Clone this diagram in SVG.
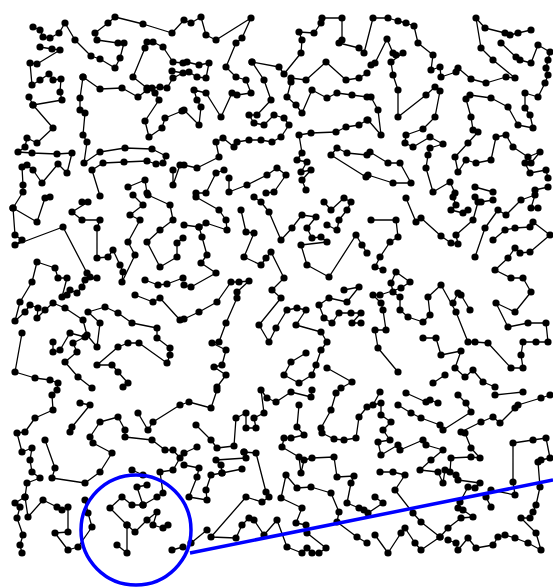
<svg xmlns="http://www.w3.org/2000/svg" width="553" height="587" viewBox="0 0 553 587">
<style>
.t polyline{fill:none;stroke:#000;stroke-width:1.3;stroke-linejoin:round;marker-start:url(#d);marker-mid:url(#d);marker-end:url(#d)}
.hl{fill:none;stroke:#0000ff;stroke-width:3.5}
</style>
<defs>
<marker id="d" markerWidth="9" markerHeight="9" refX="4.5" refY="4.5" markerUnits="userSpaceOnUse"><circle cx="4.5" cy="4.5" r="3.6" fill="#000"/></marker>
</defs>
<rect width="553" height="587" fill="#fff"/>
<g id="tour" class="t">
<polyline points="33,27 40,30 43,37 50,38 59,33 65,23 75,40 91,56 100,59 115,68 120,58 124,43 118,43 97,40 95,33 108,23 115,17 143,24 172,33 184,20 191,23 201,17 206,35 216,40 251,18 242,38 236,43 226,67 236,77 246,80 251,93 237,95 232,93 221,117 206,93 194,90 197,100 201,107 199,125 184,110 182,111 165,118 162,128 149,137 145,121 159,100 155,93 147,88 133,77 145,48 147,42 153,42 163,47 173,62 183,63 187,62 199,65 209,63 206,78 197,77 189,72"/>
<polyline points="40,47 52,49 60,50 37,64 30,63 32,85 40,80 49,74 53,80 61,79 60,92 62,100 33,105 29,97"/>
<polyline points="33,105 53,128 37,143 27,138 25,147 18,152 32,153 57,154 72,153 67,173 58,164 42,183 33,170 27,165 22,167 23,185 23,192 13,208 37,222 45,198 50,197"/>
<polyline points="13,208 15,235 22,240 15,245 63,227 87,273 90,277 97,278 85,280 82,287 77,293 70,290 67,295 62,297 67,278 58,278 55,268 37,262 32,282 20,302 15,321 25,312 30,305 38,308 37,318 45,310 53,303 65,308 83,320 87,335 97,347 100,323 88,312 105,307 118,313 132,323 157,328 157,338 170,348 170,355 167,363 139,343 128,343 118,347 97,365 112,365 118,372 128,383 123,387"/>
<polyline points="83,77 80,98 80,110 85,113 83,135 87,142 84,163 100,152 125,148 152,149 166,156 163,163 156,164 147,161 124,162 103,163 92,170 100,196"/>
<polyline points="83,77 100,89 122,88 138,97 147,90 152,88 160,87 167,88 173,78 183,73 172,71"/>
<polyline points="128,187 145,180 147,193"/>
<polyline points="173,170 173,185 180,165"/>
<polyline points="252,62 264,80 271,100 257,115 249,115 254,123 264,125 274,115 284,118 289,125 281,137 272,142 261,140 249,140 237,142 234,147 223,138 216,142 219,157 197,168 184,165"/>
<polyline points="252,62 279,67 284,74 301,53 302,40 299,32 314,33 321,23 322,18 342,18 342,40 339,43 359,48 364,53 373,18 388,18 398,21 406,23 414,26 418,43 433,55 431,70 440,67 441,77 456,72 458,68 471,79 486,83 506,77 515,78 493,60 481,48 476,18 485,28 505,33 510,35 518,33 531,30"/>
<polyline points="501,43 516,57 520,60 531,63 538,45 550,52 548,60 546,68 548,75 545,83 538,97 525,93 525,108 530,115 533,128 518,125 508,107 491,98 470,95 466,99 471,117 473,130 478,132 468,143 455,157 458,172 466,160 476,163 491,160 496,137 506,135 513,147 528,157 540,152 531,163 525,163 530,173 546,170 548,178"/>
<polyline points="371,65 375,63 387,39 393,53 396,55 403,53 391,62 393,75 398,90 398,117 426,95 435,87 440,91 435,117 423,129 406,135 405,143 413,147 430,137 443,144 430,148 428,155 426,168 433,192 450,182 455,193"/>
<polyline points="291,78 306,80 326,62 346,80 359,78 367,73"/>
<polyline points="291,82 287,97 296,105 302,113 312,90 327,98 337,93 352,95 367,97 371,97 378,110 381,135 368,120"/>
<polyline points="306,190 302,180 311,170 301,172 307,162 297,160 302,153 299,135 311,133 336,132 346,127 359,125 367,120"/>
<polyline points="366,177 331,155 337,148 347,153 367,155 370,152 388,163 400,163 411,183 393,183 368,175"/>
<polyline points="224,170 216,173 206,193 196,193"/>
<polyline points="229,178 229,192 247,185 267,175 277,168 286,175 274,192 266,193"/>
<polyline points="475,187 493,192"/>
<polyline points="535,190 548,187"/>
<polyline points="82,202 88,202 72,212 82,220 100,220 97,228 97,258 108,257 113,250 120,265 123,272 122,282 135,255 128,242 140,220 130,215 143,205 133,195"/>
<polyline points="148,195 170,205 173,220 160,230 147,242 160,267 177,257 177,243 183,238"/>
<polyline points="145,280 158,285 167,284 183,278"/>
<polyline points="135,295 153,302 160,298 180,320 184,319 199,312 217,302 231,282 239,282 249,281 237,292 237,298 226,323 219,342 212,343 226,350 222,365 214,367 226,375 217,387"/>
<polyline points="22,333 15,372 35,378 50,380 58,383 57,390"/>
<polyline points="53,342 53,352 60,350 70,333 85,337 73,343 77,352 65,362 78,377 92,388"/>
<polyline points="196,197 219,210 226,220 227,230 206,223 199,227 202,237 207,255 201,263 216,273 191,287 184,285"/>
<polyline points="184,225 199,227"/>
<polyline points="241,210 246,232 254,233 244,257 261,265 266,258 271,252 284,278 272,290 281,298 259,325 269,342 276,328 287,310 297,308 306,310 296,325 321,332 327,342 321,350 316,365 312,375 299,383 284,375 291,362 306,353"/>
<polyline points="254,197 261,202 269,212 281,240 292,228 302,215 316,217 307,228 312,238 321,237 327,242 301,245 307,265 329,277 356,235 362,245 367,253"/>
<polyline points="324,202 331,210 344,198 351,202 347,210 339,220 337,230 327,225"/>
<polyline points="344,290 359,287 347,302 329,298 319,305 324,318 332,323 339,313 351,313 361,313 352,323 361,323"/>
<polyline points="327,368 352,382 341,388"/>
<polyline points="406,198 416,222 421,218 441,236 451,243 458,244 456,235 473,220 478,202 475,197"/>
<polyline points="481,202 493,200"/>
<polyline points="453,197 456,205 451,210 463,213 468,210"/>
<polyline points="475,257 485,228 498,210 506,215 521,200 535,195 531,208 538,208"/>
<polyline points="493,240 505,230 515,228 530,227 533,222 550,235 530,252 520,253 515,248 508,258 495,270 511,278 523,278 531,292 515,312 496,303 508,327 528,323 546,323 548,342 536,342 523,342 521,355 523,368 511,368 488,343 475,342 468,342 456,312 441,285 428,297 430,315 423,322 408,317 400,310 400,297 393,292 391,283 396,272 410,282 401,288 380,295 373,295 381,303 383,310 386,330 375,330 378,348 398,372"/>
<polyline points="453,303 458,293 461,295 470,310"/>
<polyline points="423,338 436,338 441,355 461,351 455,368 465,377 473,370 483,382 495,387"/>
<polyline points="371,220 396,220 398,237 390,242 380,257 375,267 383,270"/>
<polyline points="433,383 445,375"/>
<polyline points="52,395 53,410 35,418 25,432 17,433 22,452 32,448 30,460 32,472 40,478 27,483 25,497 15,503 20,507 17,518 23,535 20,545 22,553"/>
<polyline points="25,497 28,517 43,500 57,507 62,510 68,507 68,532 55,533 68,550 78,547 92,527 88,513 85,500"/>
<polyline points="45,440 55,468 52,478 85,483 100,472 112,453 93,443 90,437 100,422 118,417 125,430 125,437 152,440 165,450 173,450 180,458 173,470 160,472 163,493 157,497 143,505 137,487 147,485"/>
<polyline points="143,505 132,505 122,497 110,508 127,525 135,532 147,520 157,512 153,525 163,528 168,525"/>
<polyline points="127,525 127,553 117,545"/>
<polyline points="80,403 90,405 72,427 70,432"/>
<polyline points="138,413 148,430 153,422 180,405 189,402 211,408 217,390"/>
<polyline points="132,470 143,475"/>
<polyline points="172,550 183,547"/>
<polyline points="196,425 211,440 217,448 234,446 236,418 246,413 246,428 256,428 254,418 264,413 261,390 267,398 276,402 291,392 311,397 312,390"/>
<polyline points="197,447 184,453"/>
<polyline points="244,452 256,453 266,492 269,497 262,502 246,497 211,537 236,538 242,525 249,518 254,520 264,535 277,520 287,547 302,553 307,548 312,553 319,553 326,548 307,533 306,525 296,523 302,508 281,498 286,475 297,488 311,487 331,493 339,512 337,522 357,537 367,543"/>
<polyline points="244,452 246,458 216,460 221,465 222,473 242,469"/>
<polyline points="222,473 211,475 206,490 207,500 189,497 197,477 199,468 184,465"/>
<polyline points="207,530 191,543"/>
<polyline points="299,405 297,427 304,435 291,438 284,438 282,447 299,457 301,473 304,460 312,458 334,457 337,477 354,476 351,483 347,503 359,508 364,510"/>
<polyline points="336,393 331,410 321,428 322,433 334,439 344,440 356,438 359,417 367,407"/>
<polyline points="380,392 373,405 381,403 381,415 391,422 383,430 390,440 378,442 381,455 398,445 400,450 423,440 426,445 443,450 431,460 420,470 438,472 443,483 445,470 450,472 451,458 471,457 480,458 471,448 465,433 461,432 481,422 493,417 500,423 515,408 518,405 541,398 550,395"/>
<polyline points="523,392 495,395"/>
<polyline points="398,405 411,413 421,418 440,425 443,430 471,412 466,403 458,395"/>
<polyline points="406,393 426,402 430,400 438,403"/>
<polyline points="380,472 393,472 405,475 395,490 413,513 421,522 440,537 448,528 461,518 473,517 463,510 458,508 460,502 468,487 475,488 480,483 458,480 456,475"/>
<polyline points="375,497 383,503 368,513"/>
<polyline points="375,535 388,553 401,533 405,528 415,543 421,550 440,537"/>
<polyline points="448,540 456,543 458,550 468,538 476,548 493,545 498,537 505,535 515,538 528,543 541,550 536,533 521,518 530,518 533,512 536,505 540,487 538,462 541,460 550,458 546,438 533,440 513,443 513,482 515,495 491,490 486,497 491,507"/>
</g>
<g id="highlight">
<circle class="hl" cx="136" cy="530" r="55"/>
<line class="hl" x1="190" y1="553" x2="553" y2="480"/>
</g>
</svg>
